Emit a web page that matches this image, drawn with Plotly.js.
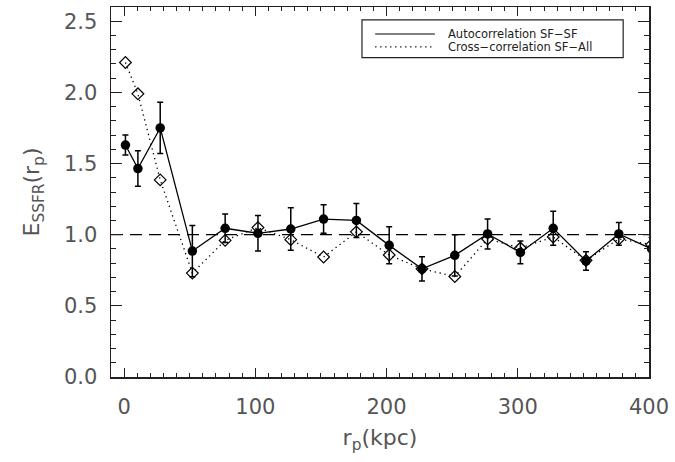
<!DOCTYPE html>
<html>
<head>
<meta charset="utf-8">
<script src="https://cdn.plot.ly/plotly-3.0.1.min.js"></script>
<style>html,body{margin:0;padding:0;background:#fff;}#chart{width:675px;height:462px;}</style>
</head>
<body>
<div id="chart"></div>
<script>
// Data
var rp = [1, 10.5, 27.5, 52, 77, 102, 127, 152, 177, 202, 227, 252, 277, 302, 327, 352, 377, 402];
var autoSF = [1.63, 1.465, 1.75, 0.885, 1.045, 1.01, 1.04, 1.11, 1.10, 0.925, 0.76, 0.855, 1.005, 0.875, 1.045, 0.815, 1.005, 0.90];
var autoErr = [0.07, 0.125, 0.18, 0.18, 0.10, 0.125, 0.15, 0.10, 0.12, 0.13, 0.085, 0.145, 0.105, 0.08, 0.12, 0.065, 0.08, 0.08];
var crossSF = [2.21, 1.99, 1.385, 0.73, 0.96, 1.05, 0.965, 0.843, 1.02, 0.857, 0.76, 0.706, 0.97, 0.906, 0.984, 0.82, 0.97, 0.93];
var refLevel = 1.0;
var legendLabels = ["Autocorrelation SF\u2212SF", "Cross\u2212correlation SF\u2212All"];

var FONT = "DejaVu Sans, sans-serif";
var TXT = "#555";
var DOTS = "1.3px,3.7px";

var traces = [
  {
    x: rp, y: crossSF, type: "scatter", mode: "lines+markers",
    line: {color: "#000", width: 1.3, dash: DOTS},
    marker: {symbol: "diamond-open", size: 9, color: "#000", line: {width: 1.2, color: "#000"}},
    showlegend: false, cliponaxis: true
  },
  {
    x: rp, y: autoSF, type: "scatter", mode: "lines+markers",
    line: {color: "#000", width: 1.3},
    marker: {symbol: "circle", size: 9.5, color: "#000"},
    error_y: {type: "data", array: autoErr, visible: true, color: "#000", thickness: 1.5, width: 3},
    showlegend: false, cliponaxis: true
  }
];

var axisCommon = {
  showgrid: false, zeroline: false, showline: true, linecolor: "#222", linewidth: 1.5,
  mirror: "allticks", ticks: "inside", tickcolor: "#222", tickwidth: 1.2,
  tickfont: {family: FONT, size: 21, color: TXT}
};

var layout = {
  width: 675, height: 462,
  margin: {l: 111, r: 26, t: 7, b: 85},
  paper_bgcolor: "#fff", plot_bgcolor: "#fff",
  showlegend: false,
  xaxis: Object.assign({}, axisCommon, {
    range: [-10, 400], tickmode: "linear", tick0: 0, dtick: 100, ticklen: 9,
    minor: {dtick: 10, tick0: 0, ticks: "inside", ticklen: 4, tickcolor: "#222", tickwidth: 1},
    ticklabelstandoff: 10,
    title: {text: "r<sub>p</sub>(kpc)", font: {family: FONT, size: 22, color: TXT}, standoff: 12}
  }),
  yaxis: Object.assign({}, axisCommon, {
    range: [0, 2.6], tickmode: "linear", tick0: 0, dtick: 0.5, ticklen: 11,
    tickformat: ".1f",
    minor: {dtick: 0.1, tick0: 0, ticks: "inside", ticklen: 5, tickcolor: "#222", tickwidth: 1},
    ticklabelstandoff: 8,
    title: {text: "E<sub>SSFR</sub>(r<sub>p</sub>)", font: {family: FONT, size: 22, color: TXT}, standoff: 18}
  }),
  shapes: [
    {type: "line", xref: "paper", x0: 0, x1: 1, yref: "y", y0: refLevel, y1: refLevel,
     line: {color: "#000", width: 1.3, dash: "12px,7px"}, layer: "below"},
    // legend box
    {type: "rect", xref: "paper", yref: "paper", x0: 0.4665, x1: 0.952, y0: 0.863, y1: 0.965,
     line: {color: "#222", width: 1.2}, fillcolor: "rgba(0,0,0,0)"},
    {type: "line", xref: "paper", yref: "paper", x0: 0.491, x1: 0.602, y0: 0.927, y1: 0.927,
     line: {color: "#000", width: 1.2}},
    {type: "line", xref: "paper", yref: "paper", x0: 0.491, x1: 0.602, y0: 0.892, y1: 0.892,
     line: {color: "#000", width: 1.2, dash: DOTS}}
  ],
  annotations: [
    {xref: "paper", yref: "paper", x: 0.622, y: 0.927, xanchor: "left", yanchor: "middle",
     text: legendLabels[0], showarrow: false, font: {family: FONT, size: 11.5, color: "#222"}},
    {xref: "paper", yref: "paper", x: 0.622, y: 0.892, xanchor: "left", yanchor: "middle",
     text: legendLabels[1], showarrow: false, font: {family: FONT, size: 11.5, color: "#222"}}
  ]
};

Plotly.newPlot("chart", traces, layout, {displayModeBar: false, staticPlot: true});
</script>
</body>
</html>
